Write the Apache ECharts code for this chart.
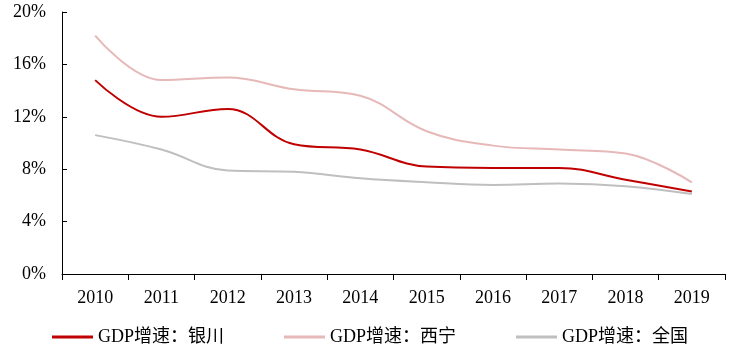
<!DOCTYPE html>
<html><head><meta charset="utf-8">
<script src="https://cdn.jsdelivr.net/npm/echarts@6/dist/echarts.min.js"></script>
<style>html,body{margin:0;padding:0;background:#fff}#c{width:734px;height:357px}</style>
</head><body><div id="c"></div>
<script>
const categories = ['2010','2011','2012','2013','2014','2015','2016','2017','2018','2019'];
const yinchuan = [14.8, 12.0, 12.6, 9.9, 9.5, 8.2, 8.1, 8.1, 7.2, 6.3];
const xining = [18.2, 14.8, 15.0, 14.1, 13.6, 10.9, 9.8, 9.5, 9.2, 7.0];
const national = [10.6, 9.5, 7.9, 7.8, 7.3, 7.0, 6.8, 6.9, 6.7, 6.1];
const names = ['GDP增速：银川', 'GDP增速：西宁', 'GDP增速：全国'];
const colors = ['#c00000', '#e6b9b8', '#bfbfbf'];
const FONT = '"Liberation Serif", "Noto Sans CJK SC", serif';
const chart = echarts.init(document.getElementById('c'));
function leg(i, left) {
  return {
    data: [names[i]], left: left, top: 328, icon: 'rect', itemWidth: 41, itemHeight: 3,
    itemGap: 0, padding: 0,
    textStyle: { fontFamily: FONT, fontSize: 18, color: '#000' }
  };
}
chart.setOption({
  animation: false,
  color: colors,
  grid: { left: 62, right: 9, top: 12, bottom: 83 },
  legend: [leg(0, 52), leg(1, 284), leg(2, 516)],
  xAxis: {
    type: 'category', data: categories, boundaryGap: true,
    axisLine: { lineStyle: { color: '#000', width: 1 } },
    axisTick: { show: true, length: 6, lineStyle: { color: '#000' } },
    axisLabel: { fontFamily: FONT, fontSize: 18, color: '#000', margin: 15 }
  },
  yAxis: {
    type: 'value', min: 0, max: 20, interval: 4,
    axisLine: { show: true, lineStyle: { color: '#000', width: 1 } },
    axisTick: { show: true, inside: true, length: 5, lineStyle: { color: '#000' } },
    splitLine: { show: false },
    axisLabel: { fontFamily: FONT, fontSize: 18, color: '#000', margin: 16, formatter: '{value}%' }
  },
  series: [
    { name: names[0], type: 'line', data: yinchuan, smooth: 0.4, symbol: 'none', lineStyle: { width: 2, color: colors[0] }, z: 4 },
    { name: names[1], type: 'line', data: xining, smooth: 0.4, symbol: 'none', lineStyle: { width: 2, color: colors[1] }, z: 3 },
    { name: names[2], type: 'line', data: national, smooth: 0.4, symbol: 'none', lineStyle: { width: 2, color: colors[2] }, z: 2 }
  ]
});
</script></body></html>
